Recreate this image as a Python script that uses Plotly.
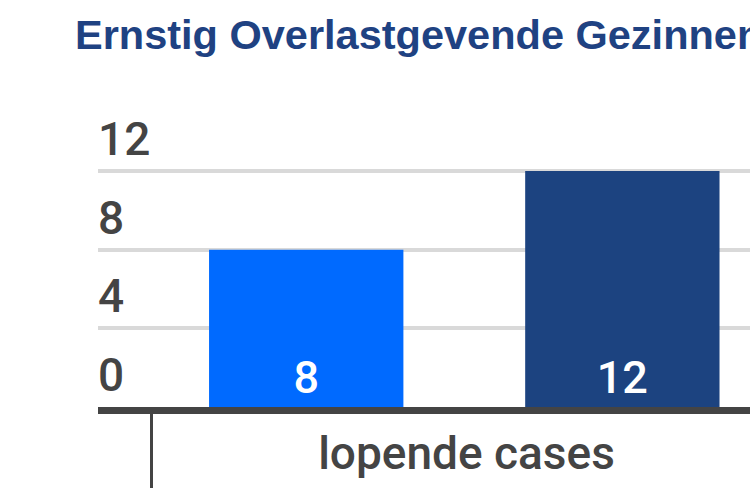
import plotly.graph_objects as go

# Data
categories = ["lopende cases"]
series_names = ["Reeks 1", "Reeks 2"]
series_values = [[8], [12]]
series_colors = ["#006AFF", "#1C4380"]
y_tick_values = [0, 4, 8, 12]
title_text = "Ernstig Overlastgevende Gezinnen"

TEXT_GRAY = "#444444"
FONT = "Roboto, Arial, sans-serif"

bar_width = 0.308
bar_offsets = [-0.408, 0.093]

fig = go.Figure()
for name, vals, color, off in zip(series_names, series_values, series_colors, bar_offsets):
    fig.add_trace(go.Bar(
        name=name,
        x=categories,
        y=vals,
        marker=dict(color=color, line=dict(width=0)),
        width=bar_width,
        offset=off,
        text=[str(v) for v in vals],
        textposition="inside",
        insidetextanchor="start",
        textfont=dict(family=FONT, size=45, color="white", weight=500),
        hoverinfo="skip",
    ))

fig.update_layout(
    width=750,
    height=488,
    margin=dict(l=98, r=0, t=58, b=81, pad=0, autoexpand=False),
    paper_bgcolor="white",
    plot_bgcolor="white",
    showlegend=False,
    barmode="group",
    title=dict(
        text="<b>" + title_text + "</b>",
        font=dict(family="Liberation Sans, Arial, sans-serif", size=41.5, color="#1F4282"),
        x=75 / 750,
        xanchor="left",
        xref="container",
        y=1 - 34 / 488,
        yanchor="middle",
        yref="container",
    ),
    xaxis=dict(
        type="category",
        range=[-0.584, 0.4493],
        automargin=False,
        showline=True,
        linecolor=TEXT_GRAY,
        linewidth=7,
        ticks="outside",
        tickson="boundaries",
        ticklen=90,
        tickwidth=3,
        tickcolor=TEXT_GRAY,
        ticklabelstandoff=0,
        tickfont=dict(family=FONT, size=46, color=TEXT_GRAY, weight=500),
        showgrid=False,
        zeroline=False,
    ),
    yaxis=dict(
        range=[0, 17.75],
        automargin=False,
        tickvals=y_tick_values,
        ticktext=[str(v) for v in y_tick_values],
        ticklabelposition="inside top",
        ticklabelstandoff=-3,
        tickfont=dict(family=FONT, size=46, color=TEXT_GRAY, weight=500),
        showgrid=True,
        gridcolor="#D9D9D9",
        gridwidth=4,
        showline=False,
        zeroline=False,
        ticks="",
    ),
)

page_css = (
    "document.documentElement.style.margin='0';"
    "document.body.style.margin='0';"
    "document.documentElement.style.overflow='hidden';"
    "document.body.style.overflow='hidden';"
)
fig.write_html("out.html", post_script=page_css,
               config={"displayModeBar": False, "staticPlot": True})
